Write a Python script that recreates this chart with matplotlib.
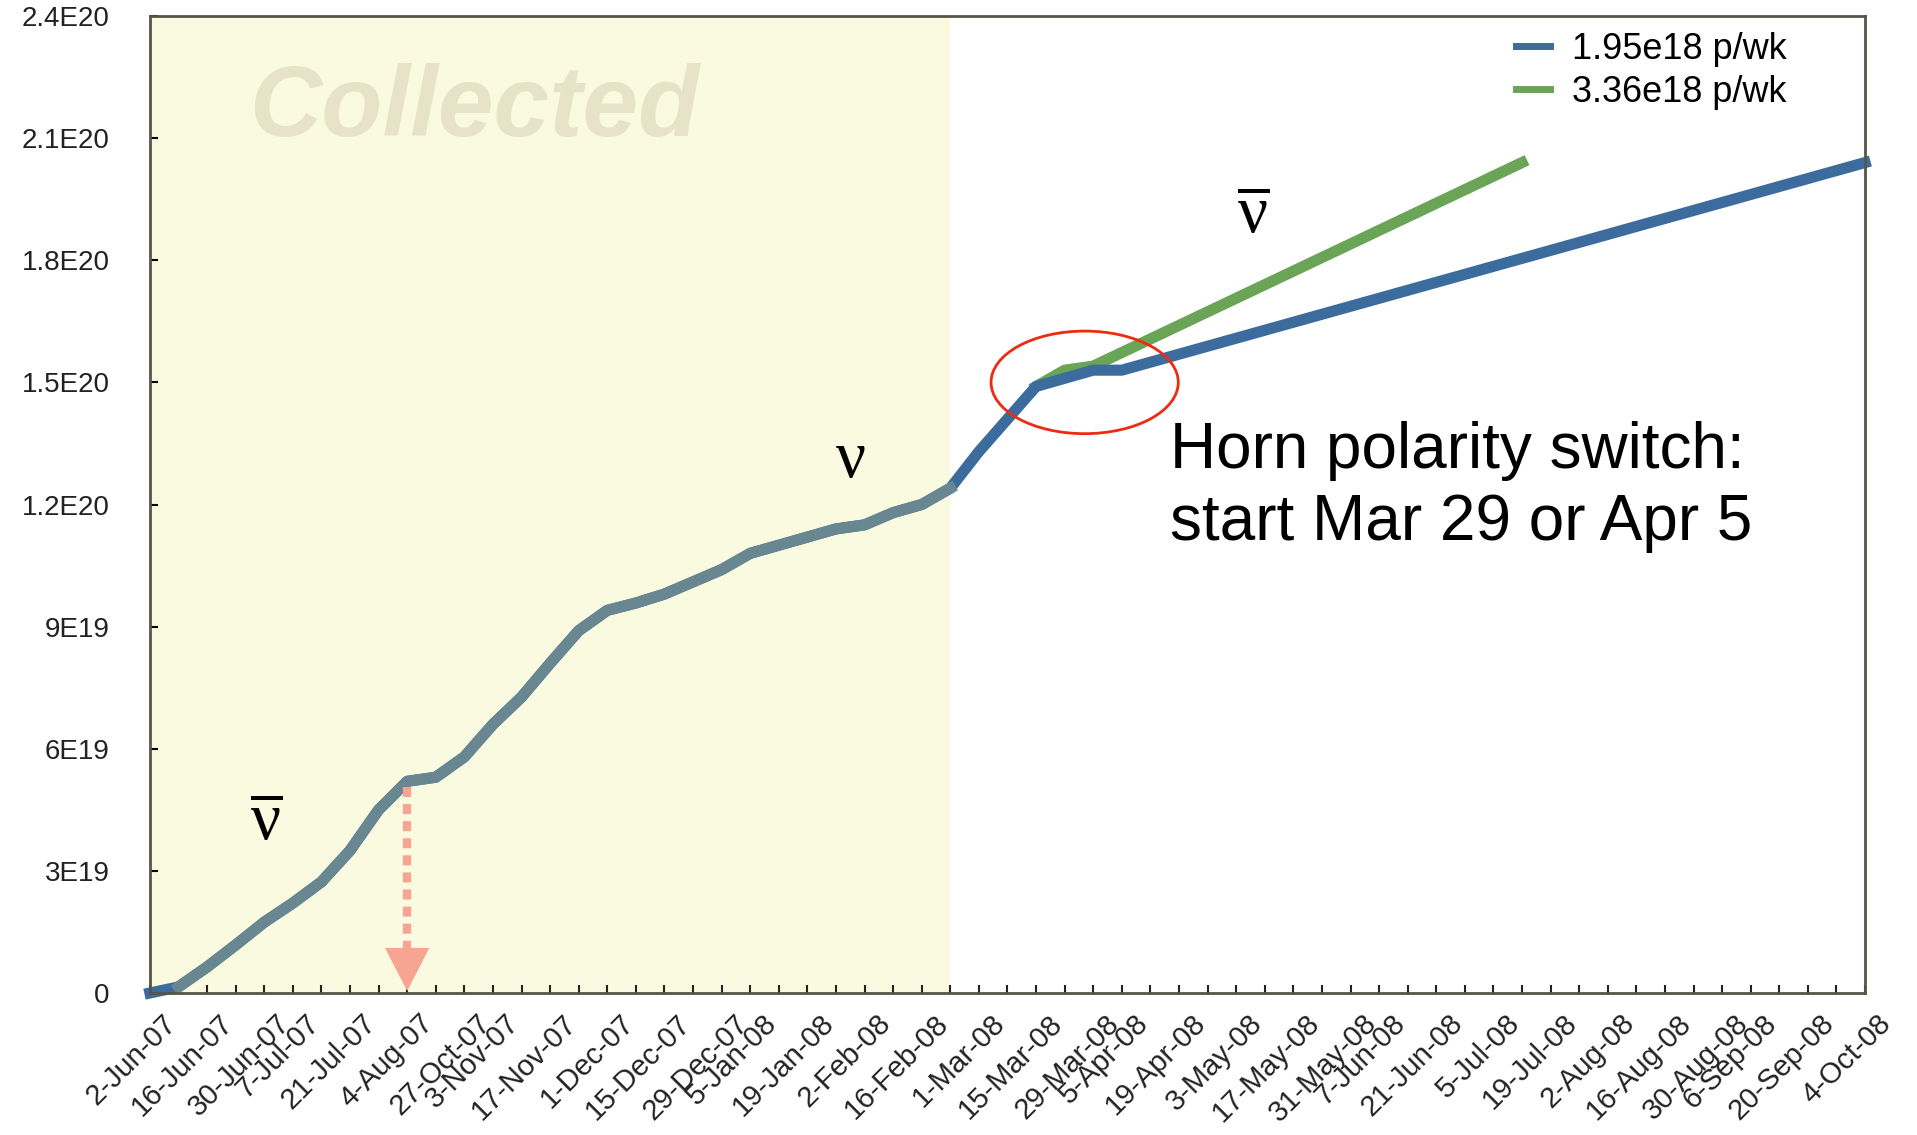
import matplotlib
matplotlib.use('Agg')
import matplotlib.pyplot as plt
import matplotlib.transforms as mtransforms
from matplotlib.patches import Ellipse

plt.rcParams['font.family'] = ['Liberation Sans', 'DejaVu Sans']
plt.rcParams['mathtext.fontset'] = 'custom'
plt.rcParams['mathtext.rm'] = 'Liberation Serif'

# weekly categories (index = week slot on the axis)
tick_idx = [0, 2, 4, 5, 7, 9, 11, 12, 14, 16, 18, 20, 21, 23, 25, 27, 29, 31, 33, 34,
            36, 38, 40, 42, 43, 45, 47, 49, 51, 53, 55, 56, 58, 60]
tick_labels = ['2-Jun-07', '16-Jun-07', '30-Jun-07', '7-Jul-07', '21-Jul-07', '4-Aug-07',
               '27-Oct-07', '3-Nov-07', '17-Nov-07', '1-Dec-07', '15-Dec-07', '29-Dec-07',
               '5-Jan-08', '19-Jan-08', '2-Feb-08', '16-Feb-08', '1-Mar-08', '15-Mar-08',
               '29-Mar-08', '5-Apr-08', '19-Apr-08', '3-May-08', '17-May-08', '31-May-08',
               '7-Jun-08', '21-Jun-08', '5-Jul-08', '19-Jul-08', '2-Aug-08', '16-Aug-08',
               '30-Aug-08', '6-Sep-08', '20-Sep-08', '4-Oct-08']

# collected POT (units of 1E19)
collected_idx = list(range(29))
collected_pot = [0, 0.15, 0.64, 1.18, 1.74, 2.21, 2.73, 3.5, 4.5, 5.2, 5.3, 5.8, 6.6, 7.27,
                 8.1, 8.9, 9.4, 9.58, 9.8, 10.1, 10.4, 10.8, 11.0, 11.2, 11.4, 11.5, 11.8,
                 12.0, 12.4]

# projections
blue_idx = [28, 29, 30, 31, 32, 33, 34, 60]
blue_pot = [12.4, 13.3, 14.1, 14.9, 15.1, 15.3, 15.3, 20.4]
green_idx = [31, 32, 33, 48]
green_pot = [14.9, 15.3, 15.4, 20.4]

yticks = [0, 3, 6, 9, 12, 15, 18, 21, 24]
ytick_labels = ['0', '3E19', '6E19', '9E19', '1.2E20', '1.5E20', '1.8E20', '2.1E20', '2.4E20']

blue = '#3b6c9d'
green = '#6aa457'
gray = '#698790'

fig = plt.figure(figsize=(19.17, 11.35), dpi=100)
ax = fig.add_axes([0.0782, 0.1251, 0.8947, 0.8608])

ax.axvspan(0, 28, color='#fafae0', zorder=0, lw=0)

ax.plot(collected_idx + blue_idx[1:], collected_pot + blue_pot[1:], color=blue, lw=8,
        solid_joinstyle='round', clip_on=False, zorder=3, label='1.95e18 p/wk')
ax.plot(green_idx, green_pot, color=green, lw=8, solid_joinstyle='round', zorder=2,
        label='3.36e18 p/wk')
ax.plot(collected_idx[1:], collected_pot[1:], color=gray, lw=8, solid_joinstyle='round',
        zorder=4)

ax.set_xlim(0, 60)
ax.set_ylim(0, 24)

ax.set_xticks(range(61))
ax.set_xticklabels([])
# x labels drawn as texts so they can sit a little right of their tick
lab_tr = mtransforms.blended_transform_factory(ax.transData, ax.transAxes) + \
    mtransforms.ScaledTranslation(0.22, -0.26, fig.dpi_scale_trans)
for i, t in zip(tick_idx, tick_labels):
    ax.text(i, 0, t, transform=lab_tr, rotation=45, ha='right', va='center',
            rotation_mode='anchor', fontsize=21, color='#222222', clip_on=False)

ax.set_yticks(yticks)
ax.set_yticklabels(ytick_labels, fontsize=20, color='#222222')
ax.tick_params(axis='x', direction='in', length=6, width=1.5, colors='#222222')
ax.tick_params(axis='y', direction='in', length=6, width=1.5, pad=29)

for s in ax.spines.values():
    s.set_color('#555548')
    s.set_linewidth(2)
    s.set_zorder(5)

ax.text(11.34, 21.7, 'Collected', ha='center', va='center', fontsize=72,
        fontweight='bold', style='italic', color='#e6e3c8', zorder=1)

# neutrino / antineutrino marks
ax.text(4.07, 4.2, r'$\overline{\mathrm{\nu}}$', ha='center', va='center', fontsize=48,
        zorder=6)
ax.text(38.6, 19.1, r'$\overline{\mathrm{\nu}}$', ha='center', va='center', fontsize=48,
        zorder=6)
ax.text(24.5, 13.1, r'$\mathrm{\nu}$', ha='center', va='center', fontsize=48, zorder=6)

ax.add_patch(Ellipse((32.7, 15.0), 6.55, 2.52, fill=False, edgecolor='#ee2a10', lw=2,
                     zorder=6))

ax.text(35.7, 14.05, 'Horn polarity switch:\nstart Mar 29 or Apr 5', ha='left', va='top',
        fontsize=46, color='black', linespacing=1.25, zorder=6)

# shutdown arrow
ax.plot([9, 9], [5.05, 1.05], color='#f7a493', lw=6, linestyle=(0, (1.2, 0.85)),
        solid_capstyle='butt', zorder=5)
ax.annotate('', xy=(9, 0.05), xytext=(9, 1.1),
            arrowprops=dict(arrowstyle='-|>,head_length=1.55,head_width=0.8',
                            mutation_scale=20, color='#f7a493', lw=0,
                            shrinkA=0, shrinkB=0), zorder=5)

ax.legend(loc='upper left', bbox_to_anchor=(0.7965, 0.984), frameon=False, fontsize=26,
          handlelength=0.95, handletextpad=0.6, borderpad=0, borderaxespad=0,
          labelspacing=0.22)
for line in ax.get_legend().get_lines():
    line.set_linewidth(5)

fig.savefig('out.png', dpi=100)
